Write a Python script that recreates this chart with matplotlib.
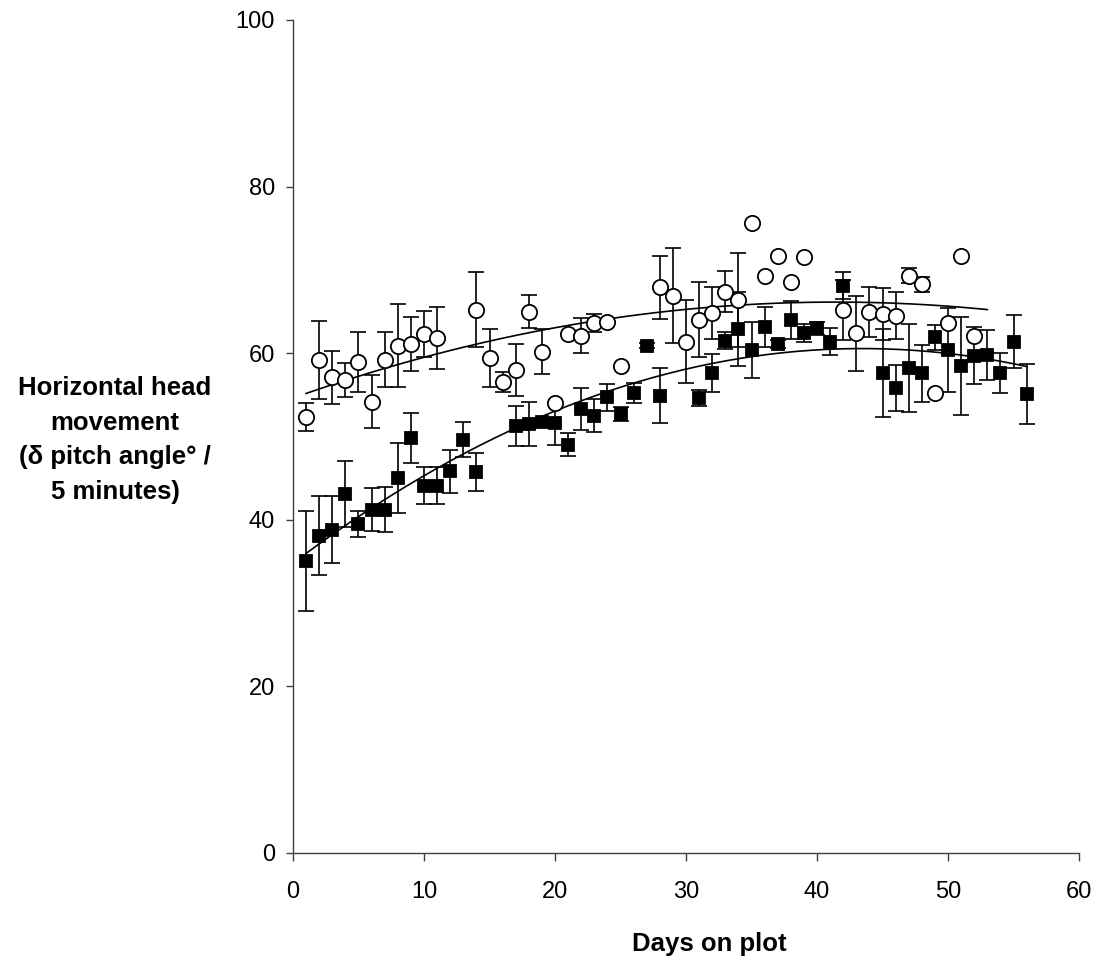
import numpy as np
import matplotlib
matplotlib.use("Agg")
import matplotlib.pyplot as plt

plt.rcParams["font.family"] = ["Liberation Sans", "DejaVu Sans"]

# open circles: day, mean, error (0 = no visible bar)
circle_days = [1, 2, 3, 4, 5, 6, 7, 8, 9, 10, 11, 14, 15, 16, 17, 18, 19, 20, 21, 22,
               23, 24, 25, 28, 29, 30, 31, 32, 33, 34, 35, 36, 37, 38, 39, 42, 43, 44,
               45, 46, 47, 48, 49, 50, 51, 52]
circle_mean = [52.3, 59.2, 57.1, 56.8, 59.0, 54.2, 59.2, 60.9, 61.1, 62.3, 61.8, 65.2,
               59.4, 56.6, 58.0, 65.0, 60.2, 54.0, 62.3, 62.1, 63.6, 63.8, 58.5, 67.9,
               66.9, 61.4, 64.0, 64.8, 67.4, 66.4, 75.6, 69.3, 71.7, 68.6, 71.5, 65.2,
               62.4, 65.0, 64.7, 64.5, 69.3, 68.3, 55.2, 63.6, 71.7, 62.1]
circle_err = [1.7, 4.7, 3.2, 2.0, 3.6, 3.2, 3.3, 5.0, 3.2, 2.8, 3.7, 4.5, 3.5, 1.2, 3.1,
              2.0, 2.7, 0, 0, 2.1, 1.1, 0, 0, 3.8, 5.7, 5.0, 4.5, 3.1, 2.5, 5.6, 0, 0,
              0, 0, 0, 3.6, 4.5, 3.0, 3.1, 2.8, 0.9, 0.9, 0, 0, 0, 0]

# filled squares: day, mean, error
square_days = [1, 2, 3, 4, 5, 6, 7, 8, 9, 10, 11, 12, 13, 14, 17, 18, 19, 20, 21, 22,
               23, 24, 25, 26, 27, 28, 31, 32, 33, 34, 35, 36, 37, 38, 39, 40, 41, 42,
               45, 46, 47, 48, 49, 50, 51, 52, 53, 54, 55, 56]
square_mean = [35.0, 38.1, 38.8, 43.1, 39.5, 41.2, 41.2, 45.0, 49.8, 44.1, 44.1, 45.8,
               49.6, 45.7, 51.3, 51.5, 51.7, 51.6, 49.0, 53.3, 52.5, 54.7, 52.7, 55.2,
               60.9, 54.9, 54.6, 57.6, 61.5, 62.9, 60.4, 63.1, 61.1, 64.0, 62.4, 63.0,
               61.4, 68.1, 57.6, 55.8, 58.2, 57.6, 61.9, 60.4, 58.5, 59.7, 59.8, 57.6,
               61.4, 55.1]
square_err = [6.0, 4.7, 4.0, 4.0, 1.6, 2.6, 2.7, 4.2, 3.0, 2.2, 2.2, 2.6, 2.1, 2.3, 2.4,
              2.7, 0.5, 2.6, 1.4, 2.5, 2.0, 1.6, 0.8, 1.2, 0.3, 3.3, 1.0, 2.3, 1.0, 4.4,
              3.4, 2.4, 0.5, 2.3, 1.1, 0.8, 1.6, 1.6, 5.3, 2.8, 5.3, 3.4, 1.5, 5.0, 5.9,
              3.4, 3.0, 2.4, 3.2, 3.6]

circle_fit_end = 53  # trend line drawn a little past the last circle
FIT_DEG = 2

fig = plt.figure(figsize=(11.01, 9.61), dpi=100)
ax = fig.add_axes([0.2661, 0.1124, 0.714, 0.8668])


def draw_series(days, mean, err, marker, face, size):
    days, mean, err = map(np.asarray, (days, mean, err))
    has = err > 0
    ax.errorbar(days[has], mean[has], yerr=err[has], fmt="none", ecolor="black",
                elinewidth=1.2, capsize=5.5, capthick=1.2, zorder=2)
    ax.plot(days, mean, linestyle="none", marker=marker, markersize=size,
            markerfacecolor=face, markeredgecolor="black", markeredgewidth=1.3, zorder=3)


draw_series(circle_days, circle_mean, circle_err, "o", "white", 11)
draw_series(square_days, square_mean, square_err, "s", "black", 8)

# polynomial trend lines
for days, mean, end in ((circle_days, circle_mean, circle_fit_end),
                        (square_days, square_mean, square_days[-1])):
    coef = np.polyfit(days, mean, FIT_DEG)
    xs = np.linspace(days[0], end, 200)
    ax.plot(xs, np.polyval(coef, xs), color="black", lw=1.2, zorder=2.5)

ax.set_xlim(0, 60)
ax.set_ylim(0, 100)
ax.set_xticks(range(0, 61, 10))
ax.set_yticks(range(0, 101, 20))
for s in ("top", "right"):
    ax.spines[s].set_visible(False)
for s in ("left", "bottom"):
    ax.spines[s].set_color("#404040")
    ax.spines[s].set_linewidth(1.0)
ax.tick_params(axis="x", length=6, width=1, color="#404040", labelsize=17, pad=14)
ax.tick_params(axis="y", length=5, width=1, color="#404040", labelsize=17, pad=8)

ax.set_xlabel("Days on plot", fontsize=18.5, fontweight="bold", labelpad=21)
ax.xaxis.label.set_x((709 - 293) / 786)
fig.text(115 / 1101, 1 - 440 / 961,
         "Horizontal head\nmovement\n(\u03b4 pitch angle\u00b0 /\n5 minutes)",
         ha="center", va="center", fontsize=18.5, fontweight="bold", linespacing=1.55)

fig.savefig("out.png", dpi=100, facecolor="white")
